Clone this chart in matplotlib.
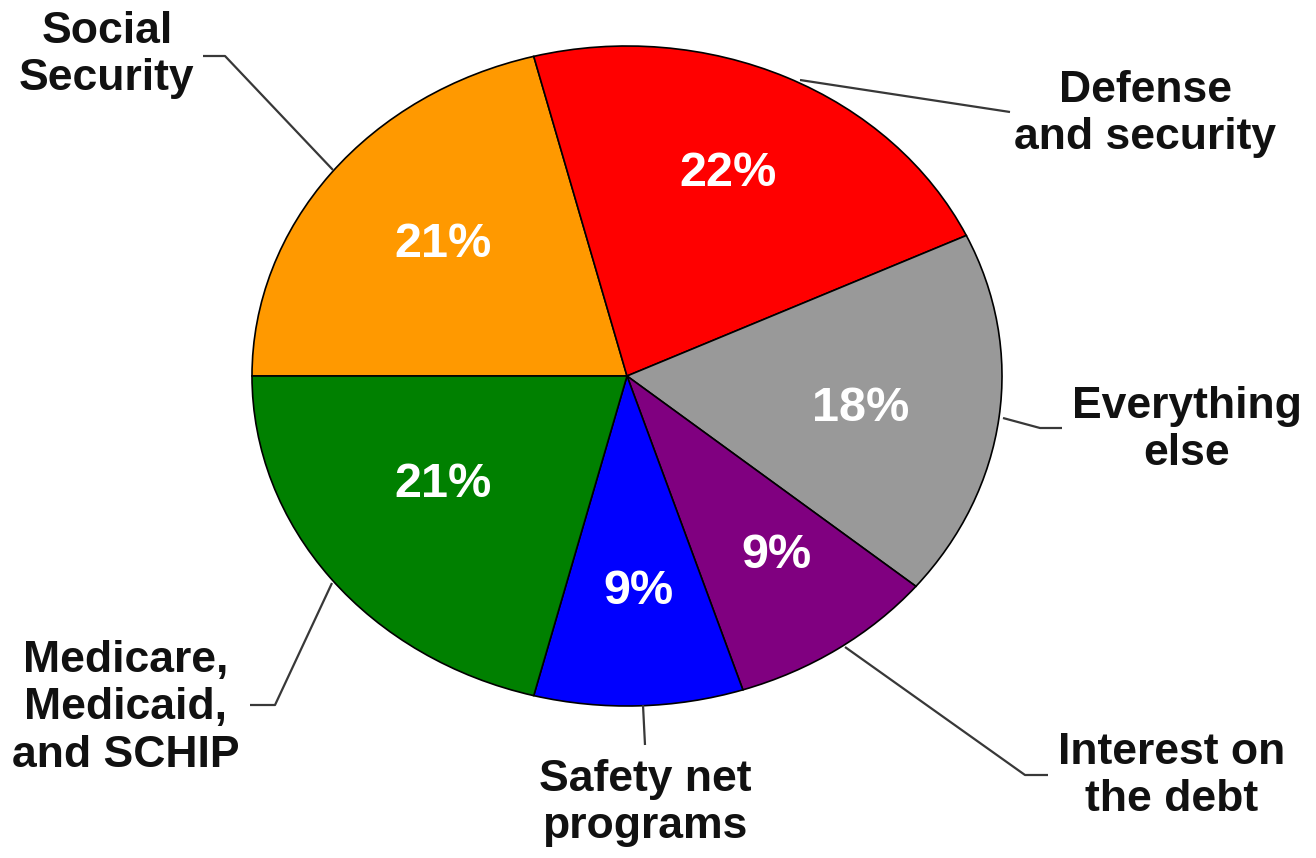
import matplotlib
matplotlib.use('Agg')
import matplotlib.pyplot as plt

plt.rcParams['font.family'] = ['Liberation Sans', 'DejaVu Sans']

# data
labels = ['Social\nSecurity', 'Defense\nand security', 'Everything\nelse',
          'Interest on\nthe debt', 'Safety net\nprograms',
          'Medicare,\nMedicaid,\nand SCHIP']
shares = [21, 22, 18, 9, 9, 21]
colors = ['#FF9900', '#FF0000', '#999999', '#800080', '#0000FF', '#008000']

# layout, in pixels of the 1316x858 picture
W, H = 1316, 858
CX, CY, RX, RY = 627, 376, 375, 330


def px(x, y):
    return (x - CX) / RX, (CY - y) / RY


pct_pos = [(443, 244), (728, 173), (861, 408), (776, 555), (638, 592), (443, 484)]
label_pos = [(107, 55), (1145, 114), (1187, 430), (1172, 776), (645, 803), (126, 708)]
leaders = [
    [(333, 170), (225, 56), (203, 56)],
    [(800, 80), (1010, 112)],
    [(1003, 418), (1040, 428), (1062, 428)],
    [(845, 647), (1025, 775), (1048, 775)],
    [(643, 705), (645, 745)],
    [(332, 583), (275, 705), (250, 705)],
]

fig = plt.figure(figsize=(W / 100, H / 100), dpi=100)
ax = fig.add_axes([0, 0, 1, 1])

wedges, texts, autotexts = ax.pie(
    shares, colors=colors, startangle=180, counterclock=False,
    autopct=lambda p: f'{p:.0f}%', pctdistance=0.63,
    wedgeprops=dict(edgecolor='black', linewidth=1.2),
    textprops=dict(color='white', fontsize=35, fontweight='bold'))

for t, pos in zip(autotexts, pct_pos):
    t.set_position(px(*pos))

# the picture is stretched: an elliptical pie
ax.set_aspect('auto')
x0, y0 = px(0, H)
x1, y1 = px(W, 0)
ax.set_xlim(x0, x1)
ax.set_ylim(y0, y1)
ax.axis('off')

for lab, pos, pts in zip(labels, label_pos, leaders):
    xs, ys = zip(*[px(*p) for p in pts])
    ax.plot(xs, ys, color='#383838', lw=1.6, solid_capstyle='butt')
    ax.text(*px(*pos), lab, ha='center', va='center', fontsize=32,
            fontweight='bold', color='#111111', linespacing=1.2,
            multialignment='center')

fig.savefig('out.png', dpi=100)
